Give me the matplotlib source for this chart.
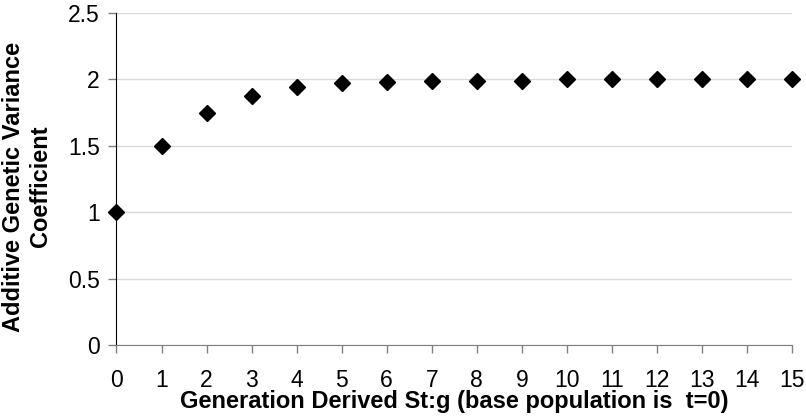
import matplotlib.pyplot as plt

plt.rcParams['font.family'] = ['Liberation Sans', 'DejaVu Sans']

# generation number and additive genetic variance coefficient
generation = [0, 1, 2, 3, 4, 5, 6, 7, 8, 9, 10, 11, 12, 13, 14, 15]
coefficient = [1.0, 1.5, 1.75, 1.875, 1.94, 1.97, 1.98, 1.99, 1.99, 1.99, 2.0, 2.0, 2.0, 2.0, 2.0, 2.0]

y_ticks = [0, 0.5, 1, 1.5, 2, 2.5]
y_tick_labels = ['0', '0.5', '1', '1.5', '2', '2.5']

fig = plt.figure(figsize=(8.06, 4.18), dpi=100)
ax = fig.add_axes([0.1445, 0.1746, 0.8381, 0.7943])

ax.plot(generation, coefficient, linestyle='none', marker='D', markersize=8.5,
        color='black', clip_on=False, zorder=3)

ax.set_xlim(0, 15)
ax.set_ylim(0, 2.5)
ax.set_xticks(generation)
ax.set_yticks(y_ticks)
ax.set_yticklabels(y_tick_labels)
ax.grid(axis='y', color='#d9d9d9', linewidth=1)
ax.set_axisbelow(True)

for s in ['top', 'right']:
    ax.spines[s].set_visible(False)
ax.spines['left'].set_color('black')
ax.spines['bottom'].set_color('#808080')
ax.tick_params(axis='both', labelsize=16.5, length=6, color='#808080', width=1)
ax.tick_params(axis='x', pad=11)
ax.tick_params(axis='y', pad=6)

ax.set_xlabel('Generation Derived St:g (base population is  t=0)', fontsize=17,
              fontweight='bold', labelpad=-1)

# y label as two centered lines, placed by hand
fig.text(27 / 806, 1 - 186.5 / 418, 'Additive Genetic Variance\nCoefficient',
         rotation=90, ha='center', va='center', multialignment='center',
         fontsize=17, fontweight='bold', linespacing=1.25)

fig.savefig('out.png', dpi=100)
